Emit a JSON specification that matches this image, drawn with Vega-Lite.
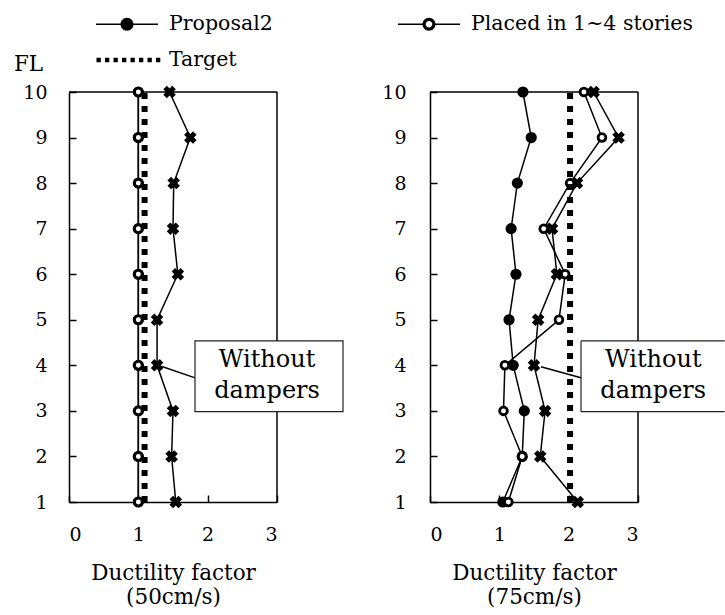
{
  "$schema": "https://vega.github.io/schema/vega-lite/v6.json",
  "padding": {"left": 13, "top": 13, "right": 0, "bottom": 0},
  "bounds": "flush",
  "spacing": 153,
  "config": {
    "font": "DejaVu Serif",
    "view": {"stroke": null},
    "axis": {
      "labelFont": "DejaVu Serif", "labelFontSize": 19, "labelColor": "black",
      "titleFont": "DejaVu Serif", "titleFontSize": 21.5, "titleFontWeight": "normal", "titleColor": "black",
      "domainColor": "black", "domainWidth": 1.5, "tickColor": "black", "tickWidth": 1.5, "tickSize": -7, "grid": false
    }
  },
  "datasets": {
    "main": [
      {"panel": "50", "series": "Proposal2", "FL": 1, "mu": 1.0},
      {"panel": "50", "series": "Proposal2", "FL": 2, "mu": 1.0},
      {"panel": "50", "series": "Proposal2", "FL": 3, "mu": 1.0},
      {"panel": "50", "series": "Proposal2", "FL": 4, "mu": 1.0},
      {"panel": "50", "series": "Proposal2", "FL": 5, "mu": 1.0},
      {"panel": "50", "series": "Proposal2", "FL": 6, "mu": 1.0},
      {"panel": "50", "series": "Proposal2", "FL": 7, "mu": 1.0},
      {"panel": "50", "series": "Proposal2", "FL": 8, "mu": 1.0},
      {"panel": "50", "series": "Proposal2", "FL": 9, "mu": 1.0},
      {"panel": "50", "series": "Proposal2", "FL": 10, "mu": 1.0},
      {"panel": "50", "series": "Placed in 1~4 stories", "FL": 1, "mu": 1.0},
      {"panel": "50", "series": "Placed in 1~4 stories", "FL": 2, "mu": 1.0},
      {"panel": "50", "series": "Placed in 1~4 stories", "FL": 3, "mu": 1.0},
      {"panel": "50", "series": "Placed in 1~4 stories", "FL": 4, "mu": 1.0},
      {"panel": "50", "series": "Placed in 1~4 stories", "FL": 5, "mu": 1.0},
      {"panel": "50", "series": "Placed in 1~4 stories", "FL": 6, "mu": 1.0},
      {"panel": "50", "series": "Placed in 1~4 stories", "FL": 7, "mu": 1.0},
      {"panel": "50", "series": "Placed in 1~4 stories", "FL": 8, "mu": 1.0},
      {"panel": "50", "series": "Placed in 1~4 stories", "FL": 9, "mu": 1.0},
      {"panel": "50", "series": "Placed in 1~4 stories", "FL": 10, "mu": 1.0},
      {"panel": "50", "series": "Without dampers", "FL": 1, "mu": 1.54},
      {"panel": "50", "series": "Without dampers", "FL": 2, "mu": 1.48},
      {"panel": "50", "series": "Without dampers", "FL": 3, "mu": 1.5},
      {"panel": "50", "series": "Without dampers", "FL": 4, "mu": 1.27},
      {"panel": "50", "series": "Without dampers", "FL": 5, "mu": 1.27},
      {"panel": "50", "series": "Without dampers", "FL": 6, "mu": 1.57},
      {"panel": "50", "series": "Without dampers", "FL": 7, "mu": 1.5},
      {"panel": "50", "series": "Without dampers", "FL": 8, "mu": 1.51},
      {"panel": "50", "series": "Without dampers", "FL": 9, "mu": 1.75},
      {"panel": "50", "series": "Without dampers", "FL": 10, "mu": 1.45},
      {"panel": "50", "series": "Target", "FL": 1, "mu": 1.09},
      {"panel": "50", "series": "Target", "FL": 10, "mu": 1.09},
      {"panel": "75", "series": "Proposal2", "FL": 1, "mu": 1.05},
      {"panel": "75", "series": "Proposal2", "FL": 2, "mu": 1.33},
      {"panel": "75", "series": "Proposal2", "FL": 3, "mu": 1.36},
      {"panel": "75", "series": "Proposal2", "FL": 4, "mu": 1.2},
      {"panel": "75", "series": "Proposal2", "FL": 5, "mu": 1.14},
      {"panel": "75", "series": "Proposal2", "FL": 6, "mu": 1.24},
      {"panel": "75", "series": "Proposal2", "FL": 7, "mu": 1.17},
      {"panel": "75", "series": "Proposal2", "FL": 8, "mu": 1.26},
      {"panel": "75", "series": "Proposal2", "FL": 9, "mu": 1.46},
      {"panel": "75", "series": "Proposal2", "FL": 10, "mu": 1.34},
      {"panel": "75", "series": "Placed in 1~4 stories", "FL": 1, "mu": 1.13},
      {"panel": "75", "series": "Placed in 1~4 stories", "FL": 2, "mu": 1.33},
      {"panel": "75", "series": "Placed in 1~4 stories", "FL": 3, "mu": 1.06},
      {"panel": "75", "series": "Placed in 1~4 stories", "FL": 4, "mu": 1.08},
      {"panel": "75", "series": "Placed in 1~4 stories", "FL": 5, "mu": 1.86},
      {"panel": "75", "series": "Placed in 1~4 stories", "FL": 6, "mu": 1.95},
      {"panel": "75", "series": "Placed in 1~4 stories", "FL": 7, "mu": 1.64},
      {"panel": "75", "series": "Placed in 1~4 stories", "FL": 8, "mu": 2.02},
      {"panel": "75", "series": "Placed in 1~4 stories", "FL": 9, "mu": 2.48},
      {"panel": "75", "series": "Placed in 1~4 stories", "FL": 10, "mu": 2.22},
      {"panel": "75", "series": "Without dampers", "FL": 1, "mu": 2.13},
      {"panel": "75", "series": "Without dampers", "FL": 2, "mu": 1.59},
      {"panel": "75", "series": "Without dampers", "FL": 3, "mu": 1.66},
      {"panel": "75", "series": "Without dampers", "FL": 4, "mu": 1.5},
      {"panel": "75", "series": "Without dampers", "FL": 5, "mu": 1.56},
      {"panel": "75", "series": "Without dampers", "FL": 6, "mu": 1.83},
      {"panel": "75", "series": "Without dampers", "FL": 7, "mu": 1.76},
      {"panel": "75", "series": "Without dampers", "FL": 8, "mu": 2.12},
      {"panel": "75", "series": "Without dampers", "FL": 9, "mu": 2.72},
      {"panel": "75", "series": "Without dampers", "FL": 10, "mu": 2.36},
      {"panel": "75", "series": "Target", "FL": 1, "mu": 2.02},
      {"panel": "75", "series": "Target", "FL": 10, "mu": 2.02}
    ]
  },
  "hconcat": [
    {
      "width": 208,
      "height": 410,
      "data": {"name": "main"},
      "transform": [{"filter": "datum.panel == '50'"}],
      "layer": [
        {
          "transform": [{"filter": "datum.series != 'Target'"}],
          "mark": {"type": "line", "color": "black", "strokeWidth": 1.5},
          "encoding": {
            "x": {"field": "mu", "type": "quantitative", "scale": {"domain": [0, 3], "nice": false, "zero": false},
                  "axis": {"values": [0, 1, 2, 3], "format": "d", "labelPadding": 30, "title": ["Ductility factor", "(50cm/s)"], "titleLineHeight": 24.5, "titleBaseline": "alphabetic", "titleY": 77, "titleX": 104, "titleAlign": "center"}},
            "y": {"field": "FL", "type": "quantitative", "scale": {"domain": [1, 10], "nice": false, "zero": false},
                  "axis": {"values": [1, 2, 3, 4, 5, 6, 7, 8, 9, 10], "labelPadding": 29, "title": "FL", "titleAngle": 0, "titleX": -41, "titleY": -22, "titleAlign": "center", "titleBaseline": "alphabetic"}},
            "detail": {"field": "series"},
            "order": {"field": "FL", "type": "quantitative"}
          }
        },
        {
          "data": {"values": [{}]},
          "mark": {"type": "rule", "color": "black", "strokeWidth": 1.5},
          "encoding": {"x": {"datum": 3}, "y": {"datum": 1}, "y2": {"datum": 10}}
        },
        {
          "data": {"values": [{}]},
          "mark": {"type": "rule", "color": "black", "strokeWidth": 1.5},
          "encoding": {"x": {"datum": 0}, "x2": {"datum": 3}, "y": {"datum": 10}}
        },
        {
          "transform": [{"filter": "datum.series == 'Proposal2'"}],
          "mark": {"type": "point", "shape": "circle", "filled": true, "color": "black", "size": 125, "opacity": 1},
          "encoding": {"x": {"field": "mu", "type": "quantitative"}, "y": {"field": "FL", "type": "quantitative"}}
        },
        {
          "transform": [{"filter": "datum.series == 'Placed in 1~4 stories'"}],
          "mark": {"type": "point", "shape": "circle", "filled": true, "fill": "white", "stroke": "black", "strokeWidth": 2.8, "size": 60, "opacity": 1},
          "encoding": {"x": {"field": "mu", "type": "quantitative"}, "y": {"field": "FL", "type": "quantitative"}}
        },
        {
          "transform": [{"filter": "datum.series == 'Target'"}],
          "mark": {"type": "line", "color": "black", "strokeWidth": 6, "strokeDash": [6, 7], "strokeCap": "butt"},
          "encoding": {"x": {"field": "mu", "type": "quantitative"}, "y": {"field": "FL", "type": "quantitative"}, "order": {"field": "FL", "type": "quantitative"}}
        },
        {
          "transform": [{"filter": "datum.series == 'Without dampers'"}],
          "mark": {"type": "point", "shape": "cross", "angle": 45, "filled": true, "color": "black", "size": 160, "opacity": 1},
          "encoding": {"x": {"field": "mu", "type": "quantitative"}, "y": {"field": "FL", "type": "quantitative"}}
        },
        {
          "transform": [{"filter": "datum.series != 'Without dampers'"}],
          "mark": {"type": "point", "filled": true, "color": "black"},
          "encoding": {
            "x": {"field": "mu", "type": "quantitative"},
            "y": {"field": "FL", "type": "quantitative"},
            "opacity": {"value": 0},
            "shape": {
              "field": "series", "type": "nominal",
              "scale": {
                "domain": ["Proposal2", "Target", "Placed in 1~4 stories"],
                "range": [
                  "M-3.1,-0.075H-0.5V0.075H-3.1ZM0.5,-0.075H3.1V0.075H0.5ZM-0.65,0A0.65,0.65 0 1,1 0.65,0A0.65,0.65 0 1,1 -0.65,0Z",
                  "M-3.05,-0.215h0.43v0.43h-0.43ZM-2.2,-0.215h0.43v0.43h-0.43ZM-1.35,-0.215h0.43v0.43h-0.43ZM-0.5,-0.215h0.43v0.43h-0.43ZM0.35,-0.215h0.43v0.43h-0.43ZM1.2,-0.215h0.43v0.43h-0.43ZM2.05,-0.215h0.43v0.43h-0.43ZM2.9,-0.215h0.43v0.43h-0.43Z",
                  "M-3.1,-0.075H-0.5V0.075H-3.1ZM0.5,-0.075H3.1V0.075H0.5ZM-0.65,0A0.65,0.65 0 1,1 0.65,0A0.65,0.65 0 1,1 -0.65,0ZM-0.33,0A0.33,0.33 0 1,0 0.33,0A0.33,0.33 0 1,0 -0.33,0Z"
                ]
              },
              "legend": {
                "title": null, "orient": "none", "legendX": 27, "legendY": -79, "columns": 2, "padding": 0,
                "symbolSize": 400, "symbolOffset": 20, "labelOffset": 31, "columnPadding": 122, "rowPadding": 14,
                "labelFont": "DejaVu Serif", "labelFontSize": 20.5, "labelColor": "black", "labelLimit": 400,
                "symbolFillColor": "black", "symbolOpacity": 1,
                "encode": {"symbols": {"update": {"fill": {"value": "black"}, "opacity": {"value": 1}}}}
              }
            }
          }
        },
        {
          "data": {"values": [{}]},
          "mark": {"type": "rule", "color": "black", "strokeWidth": 1.5},
          "encoding": {"x": {"datum": 1.33}, "y": {"datum": 3.98}, "x2": {"datum": 1.83}, "y2": {"datum": 3.72}}
        },
        {
          "data": {"values": [{}]},
          "mark": {"type": "rect", "fill": "white", "stroke": "#222", "strokeWidth": 1.2},
          "encoding": {"x": {"datum": 1.817}, "x2": {"datum": 3.952}, "y": {"datum": 4.535}, "y2": {"datum": 2.983}}
        },
        {
          "data": {"values": [{}]},
          "mark": {"type": "text", "text": ["Without", "dampers"], "font": "DejaVu Serif", "fontSize": 24, "lineHeight": 31, "align": "center", "baseline": "middle", "color": "black"},
          "encoding": {"x": {"datum": 2.856}, "y": {"datum": 4.11}}
        }
      ]
    },
    {
      "width": 208,
      "height": 410,
      "data": {"name": "main"},
      "transform": [{"filter": "datum.panel == '75'"}],
      "layer": [
        {
          "transform": [{"filter": "datum.series != 'Target'"}],
          "mark": {"type": "line", "color": "black", "strokeWidth": 1.5},
          "encoding": {
            "x": {"field": "mu", "type": "quantitative", "scale": {"domain": [0, 3], "nice": false, "zero": false},
                  "axis": {"values": [0, 1, 2, 3], "format": "d", "labelPadding": 30, "title": ["Ductility factor", "(75cm/s)"], "titleLineHeight": 24.5, "titleBaseline": "alphabetic", "titleY": 77, "titleX": 104, "titleAlign": "center"}},
            "y": {"field": "FL", "type": "quantitative", "scale": {"domain": [1, 10], "nice": false, "zero": false},
                  "axis": {"values": [1, 2, 3, 4, 5, 6, 7, 8, 9, 10], "labelPadding": 31, "title": null}},
            "detail": {"field": "series"},
            "order": {"field": "FL", "type": "quantitative"}
          }
        },
        {
          "data": {"values": [{}]},
          "mark": {"type": "rule", "color": "black", "strokeWidth": 1.5},
          "encoding": {"x": {"datum": 3}, "y": {"datum": 1}, "y2": {"datum": 10}}
        },
        {
          "data": {"values": [{}]},
          "mark": {"type": "rule", "color": "black", "strokeWidth": 1.5},
          "encoding": {"x": {"datum": 0}, "x2": {"datum": 3}, "y": {"datum": 10}}
        },
        {
          "transform": [{"filter": "datum.series == 'Proposal2'"}],
          "mark": {"type": "point", "shape": "circle", "filled": true, "color": "black", "size": 125, "opacity": 1},
          "encoding": {"x": {"field": "mu", "type": "quantitative"}, "y": {"field": "FL", "type": "quantitative"}}
        },
        {
          "transform": [{"filter": "datum.series == 'Placed in 1~4 stories'"}],
          "mark": {"type": "point", "shape": "circle", "filled": true, "fill": "white", "stroke": "black", "strokeWidth": 2.8, "size": 60, "opacity": 1},
          "encoding": {"x": {"field": "mu", "type": "quantitative"}, "y": {"field": "FL", "type": "quantitative"}}
        },
        {
          "transform": [{"filter": "datum.series == 'Target'"}],
          "mark": {"type": "line", "color": "black", "strokeWidth": 6, "strokeDash": [6, 7], "strokeCap": "butt"},
          "encoding": {"x": {"field": "mu", "type": "quantitative"}, "y": {"field": "FL", "type": "quantitative"}, "order": {"field": "FL", "type": "quantitative"}}
        },
        {
          "transform": [{"filter": "datum.series == 'Without dampers'"}],
          "mark": {"type": "point", "shape": "cross", "angle": 45, "filled": true, "color": "black", "size": 160, "opacity": 1},
          "encoding": {"x": {"field": "mu", "type": "quantitative"}, "y": {"field": "FL", "type": "quantitative"}}
        },
        {
          "data": {"values": [{}]},
          "mark": {"type": "rule", "color": "black", "strokeWidth": 1.5},
          "encoding": {"x": {"datum": 1.6}, "y": {"datum": 3.97}, "x2": {"datum": 2.19}, "y2": {"datum": 3.72}}
        },
        {
          "data": {"values": [{}]},
          "mark": {"type": "rect", "fill": "white"},
          "encoding": {"x": {"datum": 2.178}, "x2": {"datum": 4.25}, "y": {"datum": 4.535}, "y2": {"datum": 2.983}}
        },
        {
          "data": {"values": [{}]},
          "mark": {"type": "rule", "color": "#222", "strokeWidth": 1.2},
          "encoding": {"x": {"datum": 2.178}, "x2": {"datum": 4.25}, "y": {"datum": 4.535}}
        },
        {
          "data": {"values": [{}]},
          "mark": {"type": "rule", "color": "#222", "strokeWidth": 1.2},
          "encoding": {"x": {"datum": 2.178}, "x2": {"datum": 4.25}, "y": {"datum": 2.983}}
        },
        {
          "data": {"values": [{}]},
          "mark": {"type": "rule", "color": "#222", "strokeWidth": 1.2},
          "encoding": {"x": {"datum": 2.178}, "y": {"datum": 4.535}, "y2": {"datum": 2.983}}
        },
        {
          "data": {"values": [{}]},
          "mark": {"type": "text", "text": ["Without", "dampers"], "font": "DejaVu Serif", "fontSize": 24, "lineHeight": 31, "align": "center", "baseline": "middle", "color": "black"},
          "encoding": {"x": {"datum": 3.22}, "y": {"datum": 4.11}}
        }
      ]
    }
  ]
}
